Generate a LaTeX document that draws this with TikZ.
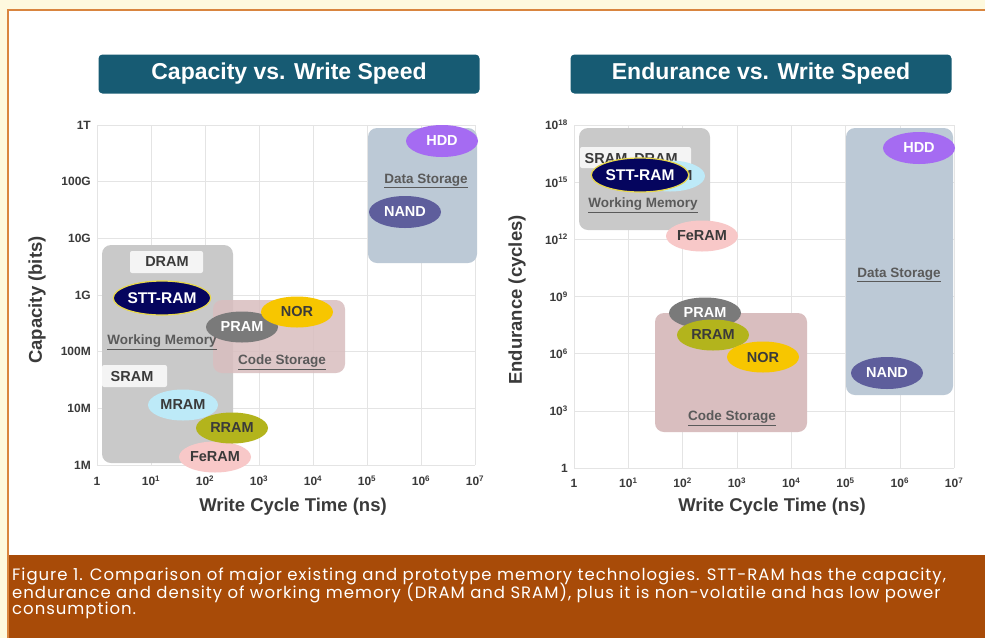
\documentclass[tikz,border=0pt]{standalone}
\usepackage{fontspec}
\setmainfont{Liberation Sans}
\newfontfamily\capfont[LetterSpace=6]{Poppins}
\usetikzlibrary{shapes.geometric}

\definecolor{cream}{HTML}{FEF9DE}
\definecolor{framec}{HTML}{D9853F}
\definecolor{capbg}{HTML}{A84B08}
\definecolor{titlebg}{HTML}{175B73}
\definecolor{gridc}{HTML}{E4E4E4}
\definecolor{txt}{HTML}{3A3A3A}
\definecolor{regtxt}{HTML}{5A5A5A}
\definecolor{wmfill}{HTML}{C9C9C9}
\definecolor{codefill}{HTML}{D9BEBF}
\definecolor{datafill}{HTML}{BCC9D6}
\definecolor{boxfill}{HTML}{F4F4F4}
\definecolor{sttfill}{HTML}{05055E}
\definecolor{sttline}{HTML}{E8D84A}
\definecolor{pramfill}{HTML}{7A7A7A}
\definecolor{norfill}{HTML}{F7C600}
\definecolor{mramfill}{HTML}{BDEAF8}
\definecolor{rramfill}{HTML}{B3B41C}
\definecolor{feramfill}{HTML}{F8C8C8}
\definecolor{hddfill}{HTML}{A56BF2}
\definecolor{nandfill}{HTML}{5E5E9C}

\tikzset{
  titlebox/.style={fill=titlebg, rounded corners=4pt, text=white,
    font=\bfseries\fontsize{23}{26}\selectfont, minimum width=381pt,
    minimum height=39pt, inner sep=0pt},
  gridline/.style={draw=gridc, line width=0.6pt},
  ticklab/.style={text=txt, font=\bfseries\fontsize{12}{13}\selectfont, inner sep=1pt},
  axislab/.style={text=txt, font=\bfseries\fontsize{18.5}{20}\selectfont, inner sep=0pt},
  region/.style={rounded corners=9pt},
  regionlab/.style={text=regtxt, font=\bfseries\fontsize{13.5}{15}\selectfont, inner sep=0pt},
  namebox/.style={fill=boxfill, rounded corners=2pt},
  namelab/.style={text=txt, font=\bfseries\fontsize{14.5}{16}\selectfont, inner sep=0pt},
  tech/.style={ellipse, minimum width=72pt, minimum height=31pt, inner sep=0pt,
    font=\bfseries\fontsize{14.5}{16}\selectfont, text=txt},
  stt/.style={tech, fill=sttfill, draw=sttline, line width=1.2pt, text=white,
    minimum width=75pt, minimum height=34pt, font=\bfseries\fontsize{15.5}{16}\selectfont},
  pram/.style={tech, fill=pramfill, text=white},
  nor/.style={tech, fill=norfill},
  mram/.style={tech, fill=mramfill, minimum width=70pt},
  rram/.style={tech, fill=rramfill},
  feram/.style={tech, fill=feramfill},
  hdd/.style={tech, fill=hddfill, text=white, minimum height=32pt},
  nand/.style={tech, fill=nandfill, text=white, minimum height=32pt},
  captext/.style={text=white, font=\capfont\fontsize{16.5}{17}\selectfont,
    anchor=west, inner sep=0pt}
}

\begin{document}
\begin{tikzpicture}[x=1pt, y=-1pt]
\useasboundingbox (0,0) rectangle (985,638);

% page frame, white panel and caption band
\fill[cream] (0,0) rectangle (985,638);
\fill[white] (8,10) rectangle (985,555);
\fill[capbg] (8,555) rectangle (985,638);
\draw[framec, line width=1.2pt] (8,638) -- (8,10) -- (985,10);

% titles
\node[titlebox] (t1) at (289,74) {Capacity vs. Write Speed};
\node[titlebox] (t2) at (761,74) {Endurance vs. Write Speed};

% ---------------- capacity vs write speed ----------------
\foreach \i in {0,...,7} \draw[gridline] (97+54*\i,125) -- (97+54*\i,465);
\foreach \j in {0,...,6} \draw[gridline] (97,125+56.67*\j) -- (475,125+56.67*\j);

\foreach \lab [count=\j from 0] in {1T,100G,10G,1G,100M,10M,1M}
  \node[ticklab, anchor=east] (cy\j) at (92,125+56.67*\j) {\lab};
\node[ticklab] (cx0) at (97,481) {1};
\foreach \i in {1,...,7}
  \node[ticklab] (cx\i) at (97+54*\i,481) {10\textsuperscript{\i}};

\node[axislab, rotate=90] (cyl) at (37,300) {Capacity (bits)};
\node[axislab] (cxl) at (293,507) {Write Cycle Time (ns)};

% regions
\fill[wmfill, region] (102,245) rectangle (233,463);
\fill[codefill, region, opacity=0.85] (213,300) rectangle (345,373);
\fill[datafill, region] (368,128) rectangle (477,263);

\node[regionlab] (cwm) at (162,342) {\underline{Working Memory}};
\node[regionlab] (ccs) at (282,362) {\underline{Code Storage}};
\node[regionlab] (cds) at (426,181) {\underline{Data Storage}};

\fill[namebox] (130,251) rectangle (203,273);
\node[namelab] (cdram) at (167,262) {DRAM};
\fill[namebox] (102,365) rectangle (167,387);
\node[namelab] (csram) at (132,376) {SRAM};

\node[stt] (cstt) at (162,298) {STT-RAM};
\node[pram] (cpram) at (242,327) {PRAM};
\node[nor] (cnor) at (297,312) {NOR};
\node[mram] (cmram) at (183,405) {MRAM};
\node[feram] (cferam) at (215,457) {FeRAM};
\node[rram] (crram) at (232,428) {RRAM};
\node[hdd] (chdd) at (442,141) {HDD};
\node[nand] (cnand) at (405,212) {NAND};

% ---------------- endurance vs write speed ----------------
\foreach \i in {0,...,7} \draw[gridline] (574+54.3*\i,125) -- (574+54.3*\i,468);
\foreach \j in {0,...,6} \draw[gridline] (574,125+57.17*\j) -- (954,125+57.17*\j);

\foreach \lab [count=\j from 0] in {18,15,12,9,6,3}
  \node[ticklab, anchor=east] (ey\j) at (569,125+57.17*\j) {10\textsuperscript{\lab}};
\node[ticklab, anchor=east] (ey6) at (569,468) {1};
\node[ticklab] (ex0) at (574,483) {1};
\foreach \i in {1,...,7}
  \node[ticklab] (ex\i) at (574+54.3*\i,483) {10\textsuperscript{\i}};

\node[axislab, rotate=90] (eyl) at (517,300) {Endurance (cycles)};
\node[axislab] (exl) at (772,507) {Write Cycle Time (ns)};

% regions
\fill[wmfill, region] (579,128) rectangle (710,230);
\fill[codefill, region] (655,313) rectangle (807,432);
\fill[datafill, region] (846,128) rectangle (953,395);

\node[regionlab] (ewm) at (643,205) {\underline{Working Memory}};
\node[regionlab] (ecs) at (732,418) {\underline{Code Storage}};
\node[regionlab] (eds) at (899,275) {\underline{Data Storage}};

\fill[namebox] (580,147) rectangle (691,168);
\node[namelab] (esram) at (606,159) {SRAM};
\node[namelab] (edram) at (656,159) {DRAM};

\node[mram] (emram) at (670,176) {MRAM};
\node[stt] (estt) at (640,175) {STT-RAM};
\node[feram] (eferam) at (702,236) {FeRAM};
\node[pram] (epram) at (705,313) {PRAM};
\node[rram] (errram) at (713,335) {RRAM};
\node[nor] (enor) at (763,357) {NOR};
\node[hdd] (ehdd) at (919,148) {HDD};
\node[nand] (enand) at (887,373) {NAND};

% caption
\node[captext] (cap1) at (12,576) {Figure 1. Comparison of major existing and prototype memory technologies. STT-RAM has the capacity,};
\node[captext] (cap2) at (12,593) {endurance and density of working memory (DRAM and SRAM), plus it is non-volatile and has low power};
\node[captext] (cap3) at (12,610) {consumption.};
\end{tikzpicture}
\end{document}
